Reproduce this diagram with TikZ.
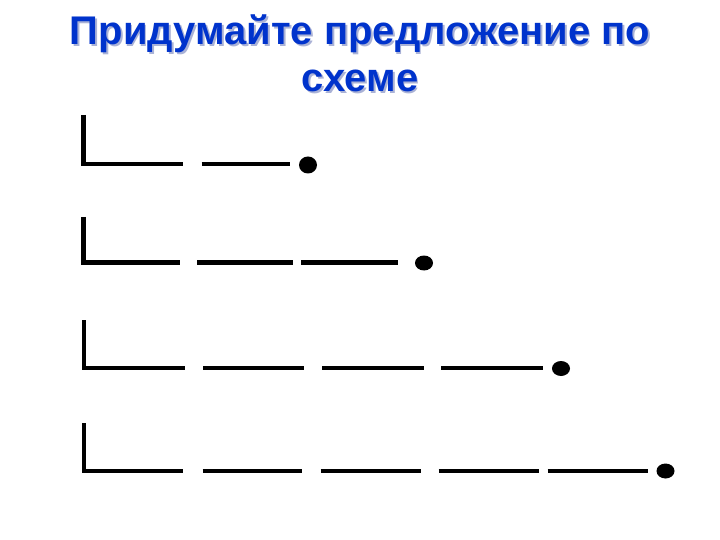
\documentclass[tikz,border=0pt]{standalone}
\usepackage{fontspec}
\setmainfont{Liberation Sans}
\definecolor{titleblue}{RGB}{0,51,204}
\definecolor{shadowblue}{RGB}{170,178,214}
\newcommand{\shadowed}[1]{\rlap{\kern1.8pt\raisebox{-1.8pt}{\textcolor{shadowblue}{#1}}}\textcolor{titleblue}{#1}}
\tikzset{
  schemeline/.style={line width=4.5pt, line cap=butt, line join=miter, black},
  enddot/.style={fill=black},
  titletext/.style={font=\fontsize{40}{48}\selectfont\bfseries, align=center, inner sep=0pt, anchor=base}
}
\begin{document}
\begin{tikzpicture}[x=1pt,y=-1pt]
\useasboundingbox[fill=white] (0,0) rectangle (720,540);
% title
\node[titletext] (t1) at (360,45) {\shadowed{Придумайте предложение по}};
\node[titletext] (t2) at (360,92) {\shadowed{схеме}};
% row 1
\draw[schemeline] (83.5,115) -- (83.5,164) -- (183,164);
\draw[schemeline] (201.5,164) -- (290,164);
\fill[enddot] (308,165) ellipse [x radius=9, y radius=8.5];
% row 2
\draw[schemeline] (83.5,217) -- (83.5,262.5) -- (179.5,262.5);
\draw[schemeline] (197,262.5) -- (292.5,262.5);
\draw[schemeline] (301,262.5) -- (398,262.5);
\fill[enddot] (424,263) ellipse [x radius=9, y radius=7.5];
% row 3
\draw[schemeline] (84,320) -- (84,368) -- (185,368);
\draw[schemeline] (203,368) -- (304,368);
\draw[schemeline] (322,368) -- (424,368);
\draw[schemeline] (441,368) -- (543,368);
\fill[enddot] (561,368.5) ellipse [x radius=9, y radius=7.5];
% row 4
\draw[schemeline] (84,423) -- (84,471) -- (183,471);
\draw[schemeline] (202.5,471) -- (302,471);
\draw[schemeline] (320.5,471) -- (420.5,471);
\draw[schemeline] (438.5,471) -- (538.5,471);
\draw[schemeline] (547.5,471) -- (647.5,471);
\fill[enddot] (665.5,471) ellipse [x radius=9, y radius=7.5];
\end{tikzpicture}
\end{document}
